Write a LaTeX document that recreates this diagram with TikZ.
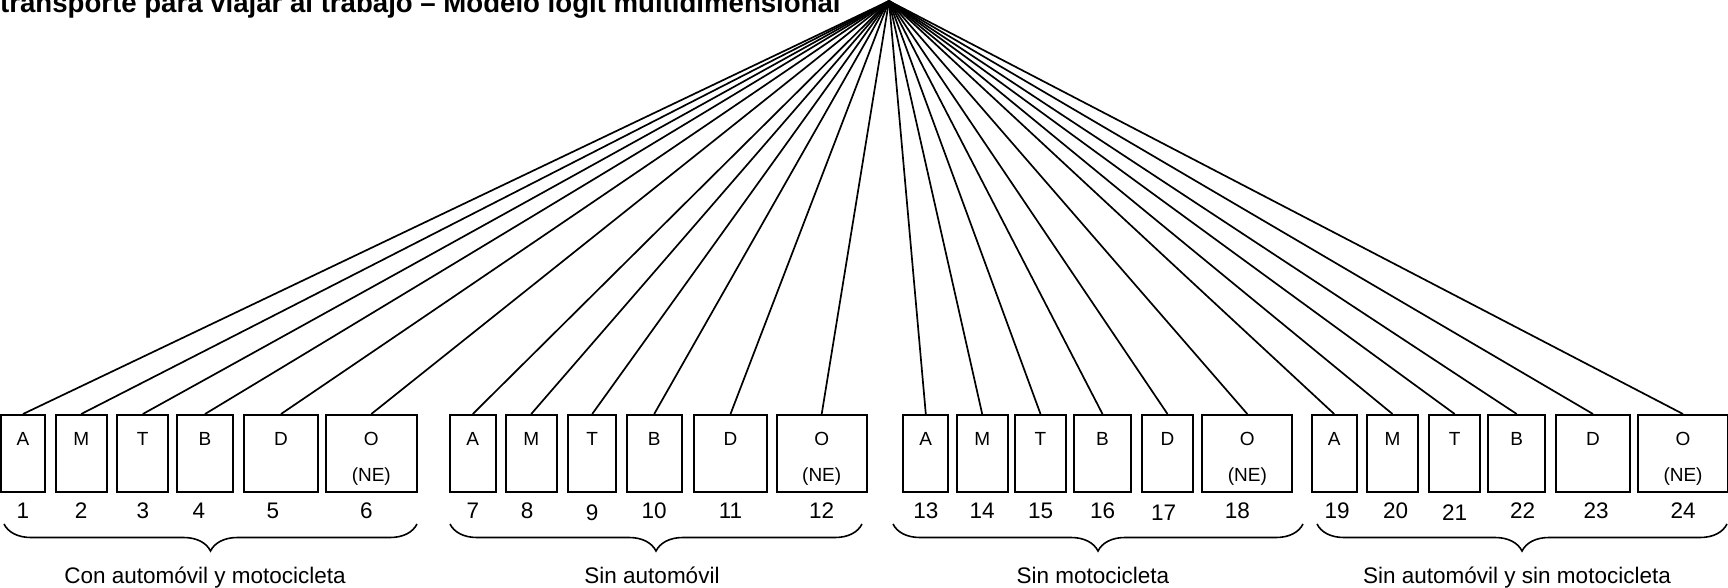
\documentclass[tikz,border=0pt]{standalone}
\usepackage{fontspec}
\setmainfont{Liberation Sans}
\usetikzlibrary{decorations.pathreplacing}

\tikzset{
  alt/.style={draw, line width=2pt, minimum height=77pt, inner sep=0pt,
    text height=30pt, text depth=47pt, font=\fontsize{19}{23}\selectfont},
  fan/.style={line width=1.7pt},
  grp/.style={line width=1.6pt, decorate, decoration={brace, mirror, amplitude=27pt}},
  every label/.style={font=\fontsize{22.5}{27}\selectfont, text height=, text depth=},
  label distance=6pt,
  ne/.style={anchor=base, yshift=18pt, font=\fontsize{19}{23}\selectfont}
}

\begin{document}
\begin{tikzpicture}[x=1pt, y=-1pt]
  \useasboundingbox (0,0) rectangle (1728,588);
  \clip (0,0) rectangle (1728,588);

  \node[anchor=base west, inner sep=0pt, font=\fontsize{27.6}{32}\selectfont\bfseries] (title) at (0,12.5)
    {transporte para viajar al trabajo -- Modelo logit multidimensional};
  \coordinate (top) at (889,1);

  % con automovil y motocicleta
  \node[alt, minimum width=44pt, label=below:{1}] (1) at (23,453.5) {A};
  \node[alt, minimum width=51pt, label=below:{2}] (2) at (81.2,453.5) {M};
  \node[alt, minimum width=51pt, label=below:{3}] (3) at (142.8,453.5) {T};
  \node[alt, minimum width=56.6pt, label={[xshift=-6pt]below:{4}}] (4) at (205,453.5) {B};
  \node[alt, minimum width=73.4pt, label={[xshift=-8pt]below:{5}}] (5) at (281,453.5) {D};
  \node[alt, minimum width=90.7pt, label={[xshift=-5pt]below:{6}}, label={[ne]south:(NE)}] (6) at (371.3,453.5) {O};

  % sin automovil
  \node[alt, minimum width=45.7pt, label=below:{7}] (7) at (472.8,453.5) {A};
  \node[alt, minimum width=51pt, label={[xshift=-4pt]below:{8}}] (8) at (531.2,453.5) {M};
  \node[alt, minimum width=47.7pt, label={[yshift=-2pt]below:{9}}] (9) at (592.2,453.5) {T};
  \node[alt, minimum width=55pt, label=below:{10}] (10) at (654.2,453.5) {B};
  \node[alt, minimum width=72.4pt, label=below:{11}] (11) at (730.5,453.5) {D};
  \node[alt, minimum width=90pt, label=below:{12}, label={[ne]south:(NE)}] (12) at (821.7,453.5) {O};

  % sin motocicleta
  \node[alt, minimum width=45pt, label=below:{13}] (13) at (925.8,453.5) {A};
  \node[alt, minimum width=51pt, label=below:{14}] (14) at (982.2,453.5) {M};
  \node[alt, minimum width=51pt, label=below:{15}] (15) at (1040.5,453.5) {T};
  \node[alt, minimum width=56.4pt, label=below:{16}] (16) at (1102.5,453.5) {B};
  \node[alt, minimum width=51.6pt, label={[xshift=-4pt, yshift=-2pt]below:{17}}] (17) at (1167.5,453.5) {D};
  \node[alt, minimum width=90pt, label={[xshift=-10pt]below:{18}}, label={[ne]south:(NE)}] (18) at (1247.3,453.5) {O};

  % sin automovil y sin motocicleta
  \node[alt, minimum width=45pt, label={[xshift=3pt]below:{19}}] (19) at (1334.2,453.5) {A};
  \node[alt, minimum width=51.6pt, label={[xshift=3pt]below:{20}}] (20) at (1392.5,453.5) {M};
  \node[alt, minimum width=50.7pt, label={[yshift=-2pt]below:{21}}] (21) at (1454.7,453.5) {T};
  \node[alt, minimum width=56.7pt, label={[xshift=6pt]below:{22}}] (22) at (1516.7,453.5) {B};
  \node[alt, minimum width=74pt, label={[xshift=3pt]below:{23}}] (23) at (1593,453.5) {D};
  \node[alt, minimum width=89.4pt, label=below:{24}, label={[ne]south:(NE)}] (24) at (1683,453.5) {O};

  \foreach \n in {1,...,24}
    \draw[fan] (top) -- (\n.north);

  \draw[grp] (4,524) -- (417,524);
  \draw[grp] (450,524) -- (862,524);
  \draw[grp] (893,524) -- (1303,524);
  \draw[grp] (1317,524) -- (1727,524);

  \node[anchor=base, font=\fontsize{22.5}{27}\selectfont] (g1) at (205,583) {Con automóvil y motocicleta};
  \node[anchor=base, font=\fontsize{22.5}{27}\selectfont] (g2) at (652,583) {Sin automóvil};
  \node[anchor=base, font=\fontsize{22.5}{27}\selectfont] (g3) at (1093,583) {Sin motocicleta};
  \node[anchor=base, font=\fontsize{22.5}{27}\selectfont] (g4) at (1517,583) {Sin automóvil y sin motocicleta};
\end{tikzpicture}
\end{document}
